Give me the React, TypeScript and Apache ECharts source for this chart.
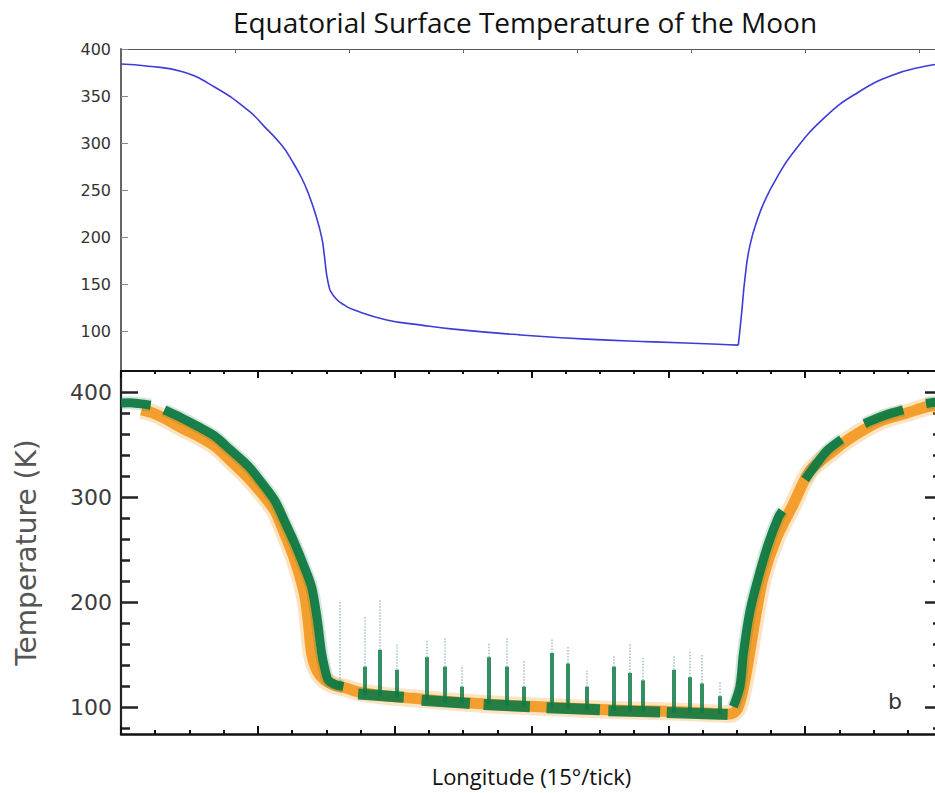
import React, { useEffect, useRef } from 'react';
import * as echarts from 'echarts';

// ---- Top panel: model curve (longitude in degrees, temperature in K), three pieces
const dayLon = [0, 12, 26.6, 41.2, 55.8, 63.1, 70.5, 74.8, 79.2, 82.1, 85.1, 88, 89.2, 90.2, 91.6];
const dayTemp = [384, 381.7, 376, 359.4, 334.7, 317, 297.7, 282, 263, 247, 226, 200, 180, 160, 144];
const nightLon = [91.6, 94.6, 98, 102, 116.5, 131, 145.7, 175, 204.2, 233.4, 262, 270.7];
const nightTemp = [144, 134, 128, 123, 112.3, 107, 102.5, 96.4, 91.9, 89, 86.5, 85.5];
const riseLon = [270.7, 272.2, 273.6, 275.8, 279.5, 283.3, 286.8, 294.1, 308.7, 323.3, 337.9, 352.5, 360];
const riseTemp = [85.5, 121, 156.5, 191.7, 222, 244, 260, 288, 327.7, 354.1, 371.8, 381.7, 384];

// ---- Bottom panel: measured bands
const orangeLon = [9, 14, 20, 26.6, 34, 41.2, 48, 55.8, 62, 67.5, 72, 74.8, 78, 80.7, 82.2, 83.6, 86, 89.4, 94, 99, 104, 115, 128.2, 141, 154.5, 168, 183.7, 200, 215.9, 230, 245.1, 257, 267, 270, 272, 274.4, 278, 281.6, 287.5, 294.8, 302.1, 312.3, 321.1, 332.8, 344.5, 354.7, 360];
const orangeTemp = [383, 380, 374, 366, 358, 348.6, 335, 318.6, 303, 287, 264, 249, 228, 205, 180, 151.5, 135, 126, 121, 118.5, 115, 111.5, 108.9, 106.5, 104.2, 102.5, 101, 99.3, 97.8, 97, 96.1, 95, 94, 97.8, 110, 135.7, 183, 224, 261.8, 293.4, 325, 343.9, 358, 372.3, 380.1, 386.5, 387];

const greenLonA = [0, 4, 8, 13];
const greenTempA = [389.6, 389.8, 389, 387.5];
const greenLonB = [19, 26.6, 34, 41.2, 48, 55.8, 62, 67.5, 72, 76.3, 80, 83.6, 86, 88, 89.5, 90.9, 94, 97.5];
const greenTempB = [383, 375.4, 367, 358, 345, 329.7, 313, 296.6, 276, 255.6, 236, 214.5, 185, 151.5, 136, 126.2, 122, 120];
const greenLonC = [268.5, 271.4, 272.9, 275.8, 279.5, 283.8, 288.2, 290];
const greenTempC = [101, 120, 151.5, 192, 224, 255.6, 280.8, 287];
const greenLonD = [300, 303, 309.4, 316];
const greenTempD = [317, 326, 343.9, 355];
const greenLonE = [326, 328.4, 335, 343];
const greenTempE = [370, 372.3, 378, 383];
const greenLonF = [353, 356, 360];
const greenTempF = [389, 390, 390.5];

// night-side green clusters: [fromLon, fromTemp, toLon, toTemp]
const nightClusters = [
  [104, 113, 124, 110],
  [131.8, 107, 153, 104],
  [159, 103, 179.3, 101],
  [186.6, 100, 210, 98],
  [213.7, 97, 236.4, 96],
  [239.3, 95.5, 266, 93.5],
];
// spikes: [lon, base, denseTop, sparseTop]
const spikes = [
  [96, 120, 125, 202], [106.9, 112, 139, 186], [113.6, 111, 155, 202], [120.9, 110, 136, 160],
  [134, 107, 148, 165], [142.1, 105, 139, 167], [149.4, 104, 120, 140], [161.1, 103, 148, 161],
  [169.1, 102, 139, 167], [176.4, 101, 120, 145], [188.8, 100, 152, 165], [196.1, 99, 142, 158],
  [204.2, 98, 120, 135], [215.9, 97, 139, 150], [223.2, 96.5, 133, 160], [229, 96, 126, 148],
  [242.2, 95, 136, 150], [249.5, 95, 129, 155], [254.6, 94.5, 123, 150], [262.7, 94, 111, 125],
];

const topTicks = [100, 150, 200, 250, 300, 350, 400];
const bottomMajor = [100, 200, 300, 400];
const bottomMinor = [80, 120, 140, 160, 180, 220, 240, 260, 280, 320, 340, 360, 380];

const ORANGE = '#f39a25';
const GREEN = '#0f7a45';
const BLUE = '#3c3cd8';

const pairs = (l: number[], t: number[]) => l.map((v, i) => [v, t[i]]);

export default function App() {
  const ref = useRef<HTMLDivElement>(null);
  useEffect(() => {
    const chart = echarts.init(ref.current!, null, { renderer: 'svg' });
    const bandSeries = (data: number[][], color: string, width: number, opacity: number, z: number) => ({
      type: 'line', xAxisIndex: 2, yAxisIndex: 2, data, showSymbol: false, symbol: 'none',
      smooth: 0.3, silent: true, z,
      lineStyle: { color, width, opacity, cap: 'butt', join: 'round' },
    });
    const modelSeries = (data: number[][]) => ({
      type: 'line', xAxisIndex: 0, yAxisIndex: 0, data, showSymbol: false, symbol: 'none',
      smooth: 0.5, silent: true, lineStyle: { color: BLUE, width: 1.6, join: 'round' },
    });
    const greenSegs = [
      pairs(greenLonA, greenTempA), pairs(greenLonB, greenTempB), pairs(greenLonC, greenTempC),
      pairs(greenLonD, greenTempD), pairs(greenLonE, greenTempE), pairs(greenLonF, greenTempF),
    ];
    const yTickCommon = { show: true, inside: true };
    const option: any = {
      animation: false,
      backgroundColor: '#ffffff',
      grid: [
        { left: 121, top: 49, right: 0, height: 323 },
        { left: 121, top: 371, right: 0, height: 363 },
      ],
      xAxis: [
        { gridIndex: 0, type: 'value', min: 0, max: 360, position: 'bottom', show: false },
        {
          gridIndex: 0, type: 'value', min: 0, max: 360, interval: 50, position: 'top',
          axisLine: { show: true, onZero: false, lineStyle: { color: '#555', width: 1.2 } },
          axisTick: { show: true, inside: true, length: 4, lineStyle: { color: '#666' } },
          axisLabel: { show: false }, splitLine: { show: false },
        },
        {
          gridIndex: 1, type: 'value', min: 0, max: 360, interval: 60, position: 'bottom',
          axisLine: { show: true, onZero: false, lineStyle: { color: '#111', width: 2.5 } },
          axisTick: { show: true, inside: true, length: 8, lineStyle: { color: '#111', width: 2 } },
          minorTick: { show: true, splitNumber: 4, length: 4, lineStyle: { color: '#111', width: 2 } },
          axisLabel: { show: false }, splitLine: { show: false },
          name: 'Longitude (15°/tick)', nameLocation: 'middle', nameGap: 31,
          nameTextStyle: { fontFamily: 'Open Sans', fontSize: 22, color: '#111' },
        },
        {
          gridIndex: 1, type: 'value', min: 0, max: 360, interval: 60, position: 'top',
          axisLine: { show: true, onZero: false, lineStyle: { color: '#111', width: 1.8 } },
          axisTick: { show: true, inside: true, length: 7, lineStyle: { color: '#111', width: 2 } },
          minorTick: { show: true, splitNumber: 4, length: 3, lineStyle: { color: '#111', width: 2 } },
          axisLabel: { show: false }, splitLine: { show: false },
        },
      ],
      yAxis: [
        {
          gridIndex: 0, type: 'value', min: 57, max: 400, position: 'left',
          axisLine: { show: true, onZero: false, lineStyle: { color: '#666', width: 2 } },
          axisTick: { ...yTickCommon, length: 7, customValues: topTicks, lineStyle: { color: '#888', width: 1 } },
          axisLabel: { customValues: topTicks, fontFamily: 'DejaVu Sans', fontSize: 16, color: '#333', margin: 10 },
          splitLine: { show: false },
        },
        {
          gridIndex: 0, type: 'value', min: 57, max: 400, position: 'right',
          axisLine: { show: true, onZero: false, lineStyle: { color: '#666', width: 1 } },
          axisTick: { ...yTickCommon, length: 4, customValues: topTicks, lineStyle: { color: '#999' } },
          axisLabel: { show: false }, splitLine: { show: false },
        },
        {
          gridIndex: 1, type: 'value', min: 75, max: 420, position: 'left',
          axisLine: { show: true, onZero: false, lineStyle: { color: '#222', width: 2.2 } },
          axisTick: { ...yTickCommon, length: 17, customValues: bottomMajor, lineStyle: { color: '#222', width: 2.5 } },
          axisLabel: { customValues: bottomMajor, fontFamily: 'DejaVu Sans', fontSize: 22, color: '#3c3c3c', margin: 9 },
          splitLine: { show: false },
          name: 'Temperature (K)', nameLocation: 'middle', nameGap: 81,
          nameTextStyle: { fontFamily: 'DejaVu Sans', fontSize: 28, color: '#555' },
        },
        {
          gridIndex: 1, type: 'value', min: 75, max: 420, position: 'left',
          axisLine: { show: false, onZero: false },
          axisTick: { ...yTickCommon, length: 9, customValues: bottomMinor, lineStyle: { color: '#222', width: 2.5 } },
          axisLabel: { show: false }, splitLine: { show: false },
        },
        {
          gridIndex: 1, type: 'value', min: 75, max: 420, position: 'right',
          axisLine: { show: true, onZero: false, lineStyle: { color: '#222', width: 2.2 } },
          axisTick: { ...yTickCommon, length: 17, customValues: bottomMajor, lineStyle: { color: '#222', width: 2.5 } },
          axisLabel: { show: false }, splitLine: { show: false },
        },
        {
          gridIndex: 1, type: 'value', min: 75, max: 420, position: 'right',
          axisLine: { show: false, onZero: false },
          axisTick: { ...yTickCommon, length: 9, customValues: bottomMinor, lineStyle: { color: '#222', width: 2.5 } },
          axisLabel: { show: false }, splitLine: { show: false },
        },
      ],
      graphic: [
        {
          type: 'text', x: 525, y: 22,
          style: {
            text: 'Equatorial Surface Temperature of the Moon', fontFamily: 'Open Sans', fontSize: 28,
            fill: '#111', textAlign: 'center', textVerticalAlign: 'middle',
          },
        },
        {
          type: 'text', x: 895, y: 701, z: 100,
          style: { text: 'b', fontFamily: 'DejaVu Sans', fontSize: 22, fill: '#333', textAlign: 'center', textVerticalAlign: 'middle' },
        },
      ],
      series: [
        modelSeries(pairs(dayLon, dayTemp)),
        modelSeries(pairs(nightLon, nightTemp)),
        modelSeries(pairs(riseLon, riseTemp)),
        bandSeries(pairs(orangeLon, orangeTemp), ORANGE, 18, 0.28, 2),
        bandSeries(pairs(orangeLon, orangeTemp), ORANGE, 11, 0.95, 3),
        ...greenSegs.map((d) => bandSeries(d, GREEN, 13, 0.18, 4)),
        ...greenSegs.map((d) => bandSeries(d, GREEN, 9, 0.95, 5)),
        {
          type: 'lines', coordinateSystem: 'cartesian2d', xAxisIndex: 2, yAxisIndex: 2, silent: true, z: 6,
          data: nightClusters.map((c) => ({ coords: [[c[0], c[1]], [c[2], c[3]]] })),
          lineStyle: { color: GREEN, width: 11, opacity: 0.9, curveness: 0 },
        },
        {
          type: 'lines', coordinateSystem: 'cartesian2d', xAxisIndex: 2, yAxisIndex: 2, silent: true, z: 6,
          data: spikes.map((s) => ({ coords: [[s[0], s[2]], [s[0], s[3]]] })),
          lineStyle: { color: '#4f8a7e', width: 1.5, opacity: 0.55, type: 'dotted', curveness: 0 },
        },
        {
          type: 'lines', coordinateSystem: 'cartesian2d', xAxisIndex: 2, yAxisIndex: 2, silent: true, z: 7,
          data: spikes.map((s) => ({ coords: [[s[0], s[1]], [s[0], s[2]]] })),
          lineStyle: { color: GREEN, width: 4, opacity: 0.85, curveness: 0 },
        },
      ],
    };
    chart.setOption(option);
    return () => chart.dispose();
  }, []);
  return (
    <div
      ref={ref}
      style={{ position: 'fixed', left: 0, top: 0, width: 942, height: 793, background: '#fff' }}
    />
  );
}
